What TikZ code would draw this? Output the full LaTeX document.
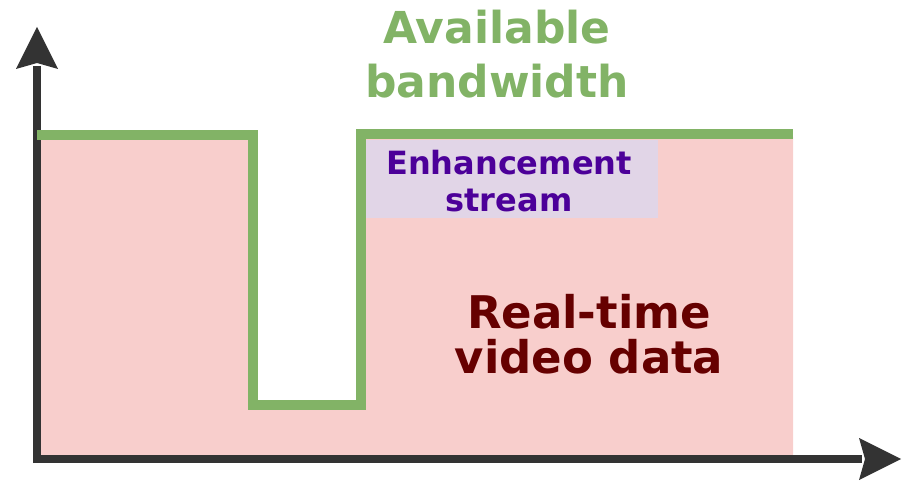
\documentclass[tikz,border=0pt]{standalone}
\usepackage{fontspec}
\setmainfont{DejaVu Sans}
\definecolor{axisgray}{HTML}{333333}
\definecolor{bwgreen}{HTML}{82B366}
\definecolor{datapink}{HTML}{F8CECC}
\definecolor{enhlilac}{HTML}{E1D5E7}
\definecolor{enhpurple}{HTML}{4C0099}
\definecolor{datared}{HTML}{660000}
\tikzset{
  axisline/.style={draw=axisgray, line width=8.5pt},
  axishead/.style={fill=axisgray, draw=none},
  bwline/.style={draw=bwgreen, line width=10pt},
  label/.style={align=center, inner sep=0pt, font=\bfseries},
}
\begin{document}
\begin{tikzpicture}[x=1pt, y=-1pt]
  \useasboundingbox (0,0) rectangle (909,481);
  % data area under the bandwidth curve
  \fill[datapink] (41,137) -- (253,137) -- (253,405) -- (361,405) -- (361,137)
    -- (793,137) -- (793,456) -- (41,456) -- cycle;
  % enhancement layer
  \fill[enhlilac] (365,140) rectangle (658,218);
  % axes
  \coordinate (origin) at (37,459);
  \coordinate (ytop) at (37,66);
  \coordinate (xend) at (862,459);
  \draw[axisline] (37,463) -- (ytop);
  \draw[axisline] (33,459) -- (xend);
  \fill[axishead] (37,27) -- (58,69) -- (37,63) -- (16,69) -- cycle;
  \fill[axishead] (901,459) -- (859,480) -- (865,459) -- (859,438) -- cycle;
  % available bandwidth curve
  \coordinate (b0) at (37,135);
  \coordinate (b1) at (253,135);
  \coordinate (b2) at (253,405);
  \coordinate (b3) at (361,405);
  \coordinate (b4) at (361,134);
  \coordinate (b5) at (793,134);
  \draw[bwline] (b0) -- (b1) -- (b2) -- (b3) -- (b4) -- (b5);
  % labels
  \node[label, text=bwgreen, font=\bfseries\fontsize{44}{54}\selectfont] (title) at (497,54) {Available\\bandwidth};
  \node[label, text=enhpurple, font=\bfseries\fontsize{32}{37}\selectfont] (enh) at (509,181) {Enhancement\\stream};
  \node[label, text=datared, font=\bfseries\fontsize{45}{45}\selectfont] (rt) at (589,334) {Real-time\\video data};
\end{tikzpicture}
\end{document}
